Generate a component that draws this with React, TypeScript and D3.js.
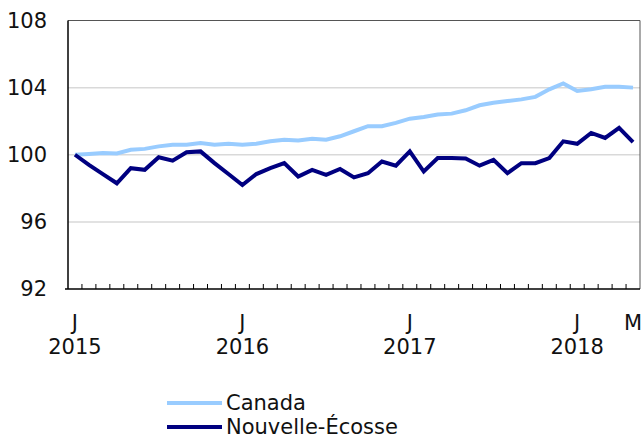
import React from "react";
import * as d3 from "d3";

const months: string[] = d3.range(41).map((i) => {
  const y = 2015 + Math.floor(i / 12);
  const m = (i % 12) + 1;
  return `${y}-${String(m).padStart(2, "0")}`;
});

const canada: number[] = [
  100, 100.05, 100.1, 100.08, 100.3, 100.35, 100.5, 100.6, 100.6, 100.7,
  100.6, 100.65, 100.6, 100.65, 100.8, 100.9, 100.85, 100.95, 100.9, 101.1,
  101.4, 101.7, 101.7, 101.9, 102.15, 102.25, 102.4, 102.45, 102.65, 102.95,
  103.1, 103.2, 103.3, 103.45, 103.9, 104.25, 103.8, 103.9, 104.05, 104.05,
  104.0,
];

const novaScotia: number[] = [
  100, 99.4, 98.85, 98.3, 99.2, 99.1, 99.85, 99.65, 100.15, 100.2,
  99.5, 98.85, 98.2, 98.85, 99.2, 99.5, 98.7, 99.1, 98.8, 99.15,
  98.65, 98.9, 99.6, 99.35, 100.2, 99.0, 99.8, 99.8, 99.78, 99.35,
  99.7, 98.9, 99.5, 99.5, 99.8, 100.8, 100.65, 101.3, 101.0, 101.6,
  100.75,
];

const yTicks: number[] = [92, 96, 100, 104, 108];
const monthLabels: { index: number; label: string; year?: string }[] = [
  { index: 0, label: "J", year: "2015" },
  { index: 12, label: "J", year: "2016" },
  { index: 24, label: "J", year: "2017" },
  { index: 36, label: "J", year: "2018" },
  { index: 40, label: "M" },
];

const seriesNames = ["Canada", "Nouvelle-Écosse"];
const colors = ["#99ccff", "#000080"];

export default function App() {
  const W = 644;
  const H = 439;
  const left = 68;
  const right = 640;
  const top = 20.5;
  const bottom = 289;
  const font = "'DejaVu Sans', Verdana, sans-serif";
  const fs = 21;

  const x = d3.scaleBand<string>().domain(months).range([left, right]);
  const cx = (i: number) => (x(months[i]) as number) + x.bandwidth() / 2;
  const y = d3.scaleLinear().domain([92, 108]).range([bottom, top]);

  const line = d3
    .line<number>()
    .x((_, i) => cx(i))
    .y((d) => y(d));

  const series = [canada, novaScotia];

  return (
    <svg
      width={W}
      height={H}
      style={{ position: "absolute", left: 0, top: 0, display: "block" }}
      fontFamily={font}
    >
      <rect x={0} y={0} width={W} height={H} fill="#fff" />
      {yTicks
        .filter((t) => t !== 92 && t !== 108)
        .map((t) => (
          <line
            key={t}
            x1={left}
            x2={right}
            y1={y(t)}
            y2={y(t)}
            stroke="#d9d9d9"
            strokeWidth={1.5}
          />
        ))}
      <line x1={left} x2={right} y1={top} y2={top} stroke="#555" strokeWidth={1} />
      <line x1={right} x2={right} y1={top} y2={bottom} stroke="#555" strokeWidth={1} />
      {yTicks.map((t) => (
        <text
          key={t}
          x={47}
          y={y(t)}
          textAnchor="end"
          dominantBaseline="central"
          fontSize={fs}
          fill="#111"
        >
          {t}
        </text>
      ))}
      {series.map((s, k) => (
        <path
          key={k}
          d={line(s) || ""}
          fill="none"
          stroke={colors[k]}
          strokeWidth={4}
          strokeLinejoin="miter"
        />
      ))}
      {months.map((m, i) =>
        i === 0 ? null : (
          <line
            key={m}
            x1={x(m) as number}
            x2={x(m) as number}
            y1={bottom}
            y2={bottom - 5}
            stroke="#000"
            strokeWidth={1}
          />
        )
      )}
      <line x1={left} x2={left} y1={top} y2={bottom} stroke="#000" strokeWidth={1.5} />
      <line x1={left - 3} x2={right} y1={bottom} y2={bottom} stroke="#000" strokeWidth={1.5} />
      {monthLabels.map((ml) => (
        <g key={ml.index}>
          <text x={cx(ml.index)} y={330} textAnchor="middle" fontSize={fs} fill="#111">
            {ml.label}
          </text>
          {ml.year && (
            <text x={cx(ml.index)} y={354} textAnchor="middle" fontSize={fs} fill="#111">
              {ml.year}
            </text>
          )}
        </g>
      ))}
      {seriesNames.map((n, k) => (
        <g key={n}>
          <line
            x1={167}
            x2={222}
            y1={403 + k * 24}
            y2={403 + k * 24}
            stroke={colors[k]}
            strokeWidth={4}
          />
          <text
            x={226}
            y={403 + k * 24}
            dominantBaseline="central"
            fontSize={fs}
            fill="#111"
          >
            {n}
          </text>
        </g>
      ))}
    </svg>
  );
}
